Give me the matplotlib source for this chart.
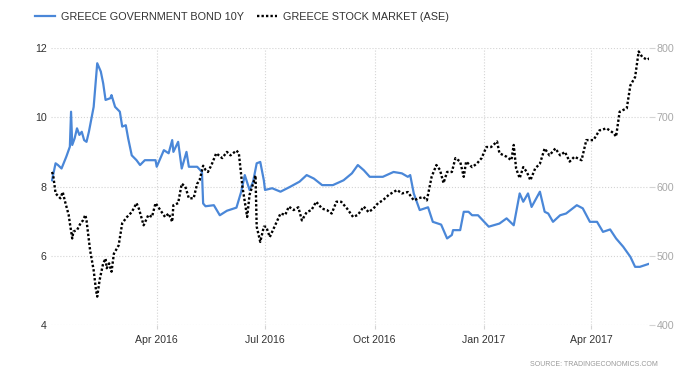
import matplotlib
matplotlib.use("Agg")
import matplotlib.pyplot as plt
import matplotlib.dates as mdates
import pandas as pd

plt.rcParams["font.family"] = ["Liberation Sans", "DejaVu Sans"]

# Greece 10Y government bond yield (%)
bond_dates = [
    "2016-01-04", "2016-01-07", "2016-01-09", "2016-01-12", "2016-01-16", "2016-01-19",
    "2016-01-20", "2016-01-21", "2016-01-23", "2016-01-25", "2016-01-27", "2016-01-29",
    "2016-01-31", "2016-02-02", "2016-02-04", "2016-02-08", "2016-02-11", "2016-02-14",
    "2016-02-16", "2016-02-18", "2016-02-22", "2016-02-23", "2016-02-26", "2016-03-01",
    "2016-03-03", "2016-03-06", "2016-03-08", "2016-03-11", "2016-03-15", "2016-03-18",
    "2016-03-22", "2016-03-31", "2016-04-01", "2016-04-07", "2016-04-11", "2016-04-14",
    "2016-04-15", "2016-04-19", "2016-04-22", "2016-04-26", "2016-04-28", "2016-05-05",
    "2016-05-09", "2016-05-10", "2016-05-12", "2016-05-19", "2016-05-24", "2016-05-30",
    "2016-06-07", "2016-06-11", "2016-06-14", "2016-06-18", "2016-06-21", "2016-06-24",
    "2016-06-27", "2016-06-30", "2016-07-01", "2016-07-07", "2016-07-14", "2016-07-22",
    "2016-07-30", "2016-08-05", "2016-08-11", "2016-08-18", "2016-08-27", "2016-09-05",
    "2016-09-12", "2016-09-17", "2016-09-22", "2016-09-27", "2016-10-08", "2016-10-17",
    "2016-10-24", "2016-10-29", "2016-10-31", "2016-11-03", "2016-11-08", "2016-11-15",
    "2016-11-19", "2016-11-26", "2016-12-01", "2016-12-05", "2016-12-06", "2016-12-12",
    "2016-12-15", "2016-12-19", "2016-12-22", "2016-12-27", "2017-01-05", "2017-01-14",
    "2017-01-20", "2017-01-26", "2017-01-31", "2017-02-03", "2017-02-07", "2017-02-10",
    "2017-02-17", "2017-02-21", "2017-02-24", "2017-02-28", "2017-03-06", "2017-03-11",
    "2017-03-20", "2017-03-25", "2017-03-31", "2017-04-06", "2017-04-11", "2017-04-17",
    "2017-04-22", "2017-04-28", "2017-05-04", "2017-05-08", "2017-05-12", "2017-05-19",
]
bond_values = [
    8.18, 8.67, 8.62, 8.52, 8.86, 9.15,
    10.16, 9.20, 9.39, 9.68, 9.49, 9.58,
    9.34, 9.29, 9.58, 10.30, 11.56, 11.32,
    10.98, 10.50, 10.55, 10.64, 10.30, 10.16,
    9.73, 9.77, 9.39, 8.90, 8.76, 8.62,
    8.76, 8.76, 8.57, 9.05, 8.96, 9.34,
    9.00, 9.29, 8.52, 9.00, 8.57, 8.57,
    8.42, 7.51, 7.43, 7.46, 7.17, 7.30,
    7.39, 7.85, 8.33, 7.90, 8.14, 8.67,
    8.71, 8.18, 7.90, 7.95, 7.85, 7.99,
    8.14, 8.33, 8.23, 8.04, 8.04, 8.18,
    8.38, 8.62, 8.47, 8.28, 8.28, 8.42,
    8.38, 8.28, 8.33, 7.80, 7.32, 7.40,
    6.98, 6.90, 6.50, 6.60, 6.74, 6.74,
    7.27, 7.27, 7.17, 7.17, 6.84, 6.93,
    7.08, 6.88, 7.80, 7.56, 7.80, 7.41,
    7.85, 7.27, 7.22, 6.98, 7.17, 7.22,
    7.46, 7.37, 6.98, 6.98, 6.69, 6.76,
    6.50, 6.26, 5.97, 5.68, 5.68, 5.76,
]

# Athens stock exchange general index
stock_dates = [
    "2016-01-04", "2016-01-05", "2016-01-07", "2016-01-11", "2016-01-13", "2016-01-15",
    "2016-01-18", "2016-01-19", "2016-01-21", "2016-01-22", "2016-01-25", "2016-01-28",
    "2016-01-30", "2016-02-01", "2016-02-02", "2016-02-05", "2016-02-08", "2016-02-10",
    "2016-02-11", "2016-02-13", "2016-02-16", "2016-02-18", "2016-02-19", "2016-02-21",
    "2016-02-23", "2016-02-25", "2016-02-29", "2016-03-03", "2016-03-07", "2016-03-11",
    "2016-03-15", "2016-03-17", "2016-03-21", "2016-03-25", "2016-03-28", "2016-03-31",
    "2016-04-04", "2016-04-08", "2016-04-11", "2016-04-14", "2016-04-15", "2016-04-19",
    "2016-04-22", "2016-04-25", "2016-04-28", "2016-05-02", "2016-05-05", "2016-05-07",
    "2016-05-10", "2016-05-12", "2016-05-14", "2016-05-17", "2016-05-21", "2016-05-26",
    "2016-05-30", "2016-06-02", "2016-06-07", "2016-06-09", "2016-06-12", "2016-06-16",
    "2016-06-18", "2016-06-21", "2016-06-23", "2016-06-24", "2016-06-27", "2016-06-30",
    "2016-07-02", "2016-07-05", "2016-07-09", "2016-07-14", "2016-07-18", "2016-07-21",
    "2016-07-25", "2016-07-29", "2016-08-01", "2016-08-05", "2016-08-09", "2016-08-13",
    "2016-08-18", "2016-08-22", "2016-08-26", "2016-08-30", "2016-09-03", "2016-09-08",
    "2016-09-13", "2016-09-17", "2016-09-22", "2016-09-26", "2016-09-30", "2016-10-04",
    "2016-10-08", "2016-10-13", "2016-10-20", "2016-10-24", "2016-10-29", "2016-11-03",
    "2016-11-07", "2016-11-11", "2016-11-14", "2016-11-18", "2016-11-22", "2016-11-25",
    "2016-11-28", "2016-12-01", "2016-12-05", "2016-12-08", "2016-12-12", "2016-12-15",
    "2016-12-17", "2016-12-22", "2016-12-26", "2016-12-30", "2017-01-03", "2017-01-07",
    "2017-01-12", "2017-01-14", "2017-01-20", "2017-01-24", "2017-01-26", "2017-01-28",
    "2017-01-31", "2017-02-03", "2017-02-06", "2017-02-09", "2017-02-13", "2017-02-17",
    "2017-02-21", "2017-02-25", "2017-03-02", "2017-03-06", "2017-03-10", "2017-03-14",
    "2017-03-18", "2017-03-24", "2017-03-28", "2017-04-03", "2017-04-08", "2017-04-14",
    "2017-04-20", "2017-04-22", "2017-04-25", "2017-05-01", "2017-05-04", "2017-05-08",
    "2017-05-11", "2017-05-14", "2017-05-18", "2017-05-20",
]
stock_values = [
    621, 616, 590, 583, 592, 578,
    559, 547, 525, 535, 537, 547,
    551, 559, 551, 508, 479, 450,
    441, 465, 489, 496, 482, 489,
    477, 503, 515, 547, 556, 563,
    576, 568, 544, 559, 556, 576,
    566, 556, 561, 549, 573, 576,
    604, 600, 583, 583, 604, 609,
    630, 624, 621, 631, 648, 641,
    650, 645, 652, 648, 600, 556,
    588, 604, 616, 542, 520, 542,
    542, 527, 542, 561, 559, 571,
    566, 570, 551, 563, 566, 578,
    568, 566, 561, 578, 578, 568,
    556, 559, 571, 563, 568, 576,
    580, 588, 595, 590, 592, 580,
    583, 585, 580, 614, 631, 624,
    605, 621, 621, 641, 636, 614,
    636, 628, 633, 641, 657, 657,
    665, 648, 643, 638, 660, 626,
    612, 628, 621, 609, 626, 633,
    655, 645, 655, 645, 650, 636,
    643, 638, 667, 667, 681, 684,
    677, 672, 708, 713, 746, 758,
    795, 787, 783, 785,
]

tick_dates = ["2016-04-01", "2016-07-01", "2016-10-01", "2017-01-01", "2017-04-01"]
tick_labels = ["Apr 2016", "Jul 2016", "Oct 2016", "Jan 2017", "Apr 2017"]
left_ticks = [4, 6, 8, 10, 12]
right_ticks = [400, 500, 600, 700, 800]

BLUE = "#4a87d8"
GRID = "#d4d4d4"

fig = plt.figure(figsize=(7, 3.75), dpi=100)
ax = fig.add_axes([0.0726, 0.1333, 0.8551, 0.7387])
ax2 = ax.twinx()

bond_line, = ax.plot(pd.to_datetime(bond_dates), bond_values, color=BLUE, lw=1.6,
                     solid_joinstyle="round")
stock_line, = ax2.plot(pd.to_datetime(stock_dates), stock_values, color="black", lw=1.7,
                       linestyle=(0, (1, 0.9)))

ax.set_xlim(pd.Timestamp("2016-01-03"), pd.Timestamp("2017-05-20"))
ax.set_ylim(4, 12)
ax2.set_ylim(400, 800)

ax.set_xticks(pd.to_datetime(tick_dates))
ax.set_xticklabels(tick_labels)
ax.set_yticks(left_ticks)
ax2.set_yticks(right_ticks)

for a in (ax, ax2):
    for s in a.spines.values():
        s.set_visible(False)

ax.grid(True, color=GRID, linestyle=":", linewidth=0.8)
ax.set_axisbelow(True)
ax.tick_params(axis="x", length=3, color=GRID, pad=4, labelsize=7.6, labelcolor="#333333")
ax.tick_params(axis="y", length=0, pad=3, labelsize=7.7, labelcolor="#333333")
ax2.tick_params(axis="y", length=4, color=GRID, pad=1, labelsize=7.7, labelcolor="#a8a8a8")

fig.legend([bond_line, stock_line],
           ["GREECE GOVERNMENT BOND 10Y", "GREECE STOCK MARKET (ASE)"],
           loc="center left", bbox_to_anchor=(30 / 700, 1 - 16.5 / 375), ncol=2,
           frameon=False, fontsize=7.8, labelcolor="#333333", borderpad=0,
           handlelength=1.85, handletextpad=0.55, columnspacing=1.2)

fig.text(658 / 700, 1 - 365 / 375, "SOURCE: TRADINGECONOMICS.COM", ha="right", va="center",
         fontsize=5, color="#999999")

fig.savefig("out.png", dpi=100)
